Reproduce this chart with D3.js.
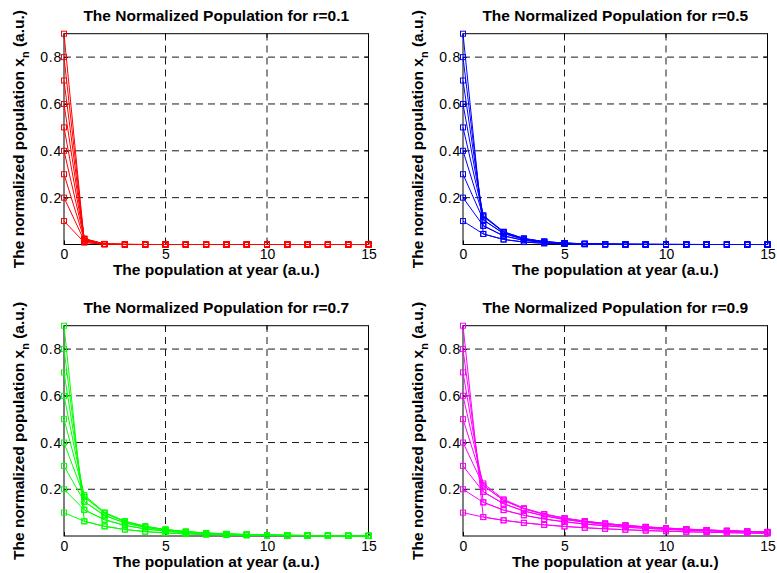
<!DOCTYPE html>
<html>
<head>
<meta charset="utf-8">
<script src="https://cdn.jsdelivr.net/npm/d3@7"></script>
<style>
  html, body { margin: 0; padding: 0; background: #fff; }
  svg { display: block; font-family: "Liberation Sans", Arial, Helvetica, sans-serif; }
</style>
</head>
<body>
<svg id="chart" width="777" height="573"></svg>
<script>
// Years on the horizontal axis
const years = [0, 1, 2, 3, 4, 5, 6, 7, 8, 9, 10, 11, 12, 13, 14, 15];

// Growth rates, one panel each
const rates = ["0.1", "0.5", "0.7", "0.9"];

// Tick values
const xTicks = [0, 5, 10, 15];
const yTicks = [0.2, 0.4, 0.6, 0.8];

// Normalized population x_n, one row per starting value x0 = 0.1 … 0.9
const popR01 = [
  [0.1, 0.009, 0.0009, 0.0001, 0, 0, 0, 0, 0, 0, 0, 0, 0, 0, 0, 0],
  [0.2, 0.016, 0.0016, 0.0002, 0, 0, 0, 0, 0, 0, 0, 0, 0, 0, 0, 0],
  [0.3, 0.021, 0.0021, 0.0002, 0, 0, 0, 0, 0, 0, 0, 0, 0, 0, 0, 0],
  [0.4, 0.024, 0.0023, 0.0002, 0, 0, 0, 0, 0, 0, 0, 0, 0, 0, 0, 0],
  [0.5, 0.025, 0.0024, 0.0002, 0, 0, 0, 0, 0, 0, 0, 0, 0, 0, 0, 0],
  [0.6, 0.024, 0.0023, 0.0002, 0, 0, 0, 0, 0, 0, 0, 0, 0, 0, 0, 0],
  [0.7, 0.021, 0.0021, 0.0002, 0, 0, 0, 0, 0, 0, 0, 0, 0, 0, 0, 0],
  [0.8, 0.016, 0.0016, 0.0002, 0, 0, 0, 0, 0, 0, 0, 0, 0, 0, 0, 0],
  [0.9, 0.009, 0.0009, 0.0001, 0, 0, 0, 0, 0, 0, 0, 0, 0, 0, 0, 0]
];

const popR05 = [
  [0.1, 0.045, 0.0215, 0.0105, 0.0052, 0.0026, 0.0013, 0.0006, 0.0003, 0.0002, 0.0001, 0, 0, 0, 0, 0],
  [0.2, 0.080, 0.0368, 0.0177, 0.0087, 0.0043, 0.0021, 0.0011, 0.0005, 0.0003, 0.0001, 0.0001, 0, 0, 0, 0],
  [0.3, 0.105, 0.0470, 0.0224, 0.0109, 0.0054, 0.0027, 0.0013, 0.0007, 0.0003, 0.0002, 0.0001, 0, 0, 0, 0],
  [0.4, 0.120, 0.0528, 0.0250, 0.0122, 0.0060, 0.0030, 0.0015, 0.0007, 0.0004, 0.0002, 0.0001, 0, 0, 0, 0],
  [0.5, 0.125, 0.0547, 0.0258, 0.0126, 0.0062, 0.0031, 0.0015, 0.0008, 0.0004, 0.0002, 0.0001, 0, 0, 0, 0],
  [0.6, 0.120, 0.0528, 0.0250, 0.0122, 0.0060, 0.0030, 0.0015, 0.0007, 0.0004, 0.0002, 0.0001, 0, 0, 0, 0],
  [0.7, 0.105, 0.0470, 0.0224, 0.0109, 0.0054, 0.0027, 0.0013, 0.0007, 0.0003, 0.0002, 0.0001, 0, 0, 0, 0],
  [0.8, 0.080, 0.0368, 0.0177, 0.0087, 0.0043, 0.0021, 0.0011, 0.0005, 0.0003, 0.0001, 0.0001, 0, 0, 0, 0],
  [0.9, 0.045, 0.0215, 0.0105, 0.0052, 0.0026, 0.0013, 0.0006, 0.0003, 0.0002, 0.0001, 0, 0, 0, 0, 0]
];

const popR07 = [
  [0.1, 0.063, 0.0413, 0.0277, 0.0189, 0.0130, 0.0090, 0.0062, 0.0043, 0.0030, 0.0021, 0.0015, 0.0010, 0.0007, 0.0005, 0.0004],
  [0.2, 0.112, 0.0696, 0.0453, 0.0303, 0.0206, 0.0141, 0.0097, 0.0067, 0.0047, 0.0033, 0.0023, 0.0016, 0.0011, 0.0008, 0.0005],
  [0.3, 0.147, 0.0878, 0.0560, 0.0370, 0.0250, 0.0170, 0.0117, 0.0081, 0.0056, 0.0039, 0.0027, 0.0019, 0.0013, 0.0009, 0.0007],
  [0.4, 0.168, 0.0978, 0.0618, 0.0406, 0.0273, 0.0186, 0.0127, 0.0088, 0.0061, 0.0043, 0.0030, 0.0021, 0.0014, 0.0010, 0.0007],
  [0.5, 0.175, 0.1011, 0.0636, 0.0417, 0.0280, 0.0190, 0.0131, 0.0090, 0.0063, 0.0044, 0.0030, 0.0021, 0.0015, 0.0010, 0.0007],
  [0.6, 0.168, 0.0978, 0.0618, 0.0406, 0.0273, 0.0186, 0.0127, 0.0088, 0.0061, 0.0043, 0.0030, 0.0021, 0.0014, 0.0010, 0.0007],
  [0.7, 0.147, 0.0878, 0.0560, 0.0370, 0.0250, 0.0170, 0.0117, 0.0081, 0.0056, 0.0039, 0.0027, 0.0019, 0.0013, 0.0009, 0.0007],
  [0.8, 0.112, 0.0696, 0.0453, 0.0303, 0.0206, 0.0141, 0.0097, 0.0067, 0.0047, 0.0033, 0.0023, 0.0016, 0.0011, 0.0008, 0.0005],
  [0.9, 0.063, 0.0413, 0.0277, 0.0189, 0.0130, 0.0090, 0.0062, 0.0043, 0.0030, 0.0021, 0.0015, 0.0010, 0.0007, 0.0005, 0.0004]
];

const popR09 = [
  [0.1, 0.081, 0.0670, 0.0563, 0.0478, 0.0409, 0.0353, 0.0307, 0.0268, 0.0234, 0.0206, 0.0182, 0.0161, 0.0142, 0.0126, 0.0112],
  [0.2, 0.144, 0.1109, 0.0888, 0.0728, 0.0607, 0.0514, 0.0438, 0.0377, 0.0327, 0.0284, 0.0249, 0.0218, 0.0192, 0.0170, 0.0150],
  [0.3, 0.189, 0.1380, 0.1070, 0.0860, 0.0708, 0.0592, 0.0501, 0.0428, 0.0369, 0.0320, 0.0279, 0.0244, 0.0214, 0.0189, 0.0166],
  [0.4, 0.216, 0.1524, 0.1163, 0.0925, 0.0755, 0.0628, 0.0530, 0.0452, 0.0388, 0.0336, 0.0292, 0.0255, 0.0224, 0.0197, 0.0174],
  [0.5, 0.225, 0.1569, 0.1191, 0.0944, 0.0769, 0.0639, 0.0539, 0.0459, 0.0394, 0.0340, 0.0296, 0.0259, 0.0227, 0.0199, 0.0176],
  [0.6, 0.216, 0.1524, 0.1163, 0.0925, 0.0755, 0.0628, 0.0530, 0.0452, 0.0388, 0.0336, 0.0292, 0.0255, 0.0224, 0.0197, 0.0174],
  [0.7, 0.189, 0.1380, 0.1070, 0.0860, 0.0708, 0.0592, 0.0501, 0.0428, 0.0369, 0.0320, 0.0279, 0.0244, 0.0214, 0.0189, 0.0166],
  [0.8, 0.144, 0.1109, 0.0888, 0.0728, 0.0607, 0.0514, 0.0438, 0.0377, 0.0327, 0.0284, 0.0249, 0.0218, 0.0192, 0.0170, 0.0150],
  [0.9, 0.081, 0.0670, 0.0563, 0.0478, 0.0409, 0.0353, 0.0307, 0.0268, 0.0234, 0.0206, 0.0182, 0.0161, 0.0142, 0.0126, 0.0112]
];

const populations = [popR01, popR05, popR07, popR09];

// ---- presentation ----
const lineColors = ["#ff0000", "#0000ff", "#00ff00", "#ff00ff"];
const panelBoxes = [
  { left: 64,  right: 368.5, top: 33.7,  bottom: 244.5 },
  { left: 463, right: 767.5, top: 33.7,  bottom: 244.5 },
  { left: 64,  right: 368.5, top: 325.7, bottom: 536 },
  { left: 463, right: 767.5, top: 325.7, bottom: 536 }
];
const markerSize = 5;
const tickLen = 4;
const labelFont = "15.5px";
const tickFont = "14px";

const svg = d3.select("#chart");

rates.forEach((r, i) => {
  const box = panelBoxes[i];
  const color = lineColors[i];
  const data = populations[i];

  const x = d3.scaleLinear().domain([0, 15]).range([box.left, box.right]);
  const y = d3.scaleLinear().domain([0, 0.9]).range([box.bottom, box.top]);

  const g = svg.append("g");

  // dashed grid
  const grid = g.append("g")
    .attr("stroke", "#1a1a1a")
    .attr("stroke-width", 1)
    .attr("stroke-dasharray", "7,5")
    .attr("fill", "none");
  xTicks.filter(t => t > 0 && t < 15).forEach(t => {
    grid.append("line")
      .attr("x1", x(t)).attr("x2", x(t))
      .attr("y1", box.bottom).attr("y2", box.top);
  });
  yTicks.forEach(t => {
    grid.append("line")
      .attr("x1", box.left).attr("x2", box.right)
      .attr("y1", y(t)).attr("y2", y(t));
  });

  // axes: bottom and left via d3.axis with inward ticks
  const xAxis = d3.axisBottom(x).tickValues(xTicks).tickSizeInner(-tickLen).tickSizeOuter(0).tickPadding(5)
    .tickFormat(d3.format("d"));
  const yAxis = d3.axisLeft(y).tickValues(yTicks).tickSizeInner(-tickLen).tickSizeOuter(0).tickPadding(2)
    .tickFormat(d3.format(".1f"));

  const gx = g.append("g").attr("transform", `translate(0,${box.bottom})`).call(xAxis);
  const gy = g.append("g").attr("transform", `translate(${box.left},0)`).call(yAxis);
  [gx, gy].forEach(a => {
    a.select(".domain").remove();
    a.selectAll(".tick line").attr("stroke", "#000");
    a.selectAll(".tick text")
      .attr("fill", "#000")
      .style("font-size", tickFont)
      .style("font-family", "Liberation Sans, Arial, sans-serif");
  });
  gy.selectAll(".tick text").style("letter-spacing", "0.8px");

  // mirrored ticks on top and right
  const mirror = g.append("g").attr("stroke", "#000").attr("stroke-width", 1);
  xTicks.forEach(t => {
    mirror.append("line").attr("x1", x(t)).attr("x2", x(t))
      .attr("y1", box.top).attr("y2", box.top + tickLen);
  });
  yTicks.forEach(t => {
    mirror.append("line").attr("x1", box.right).attr("x2", box.right - tickLen)
      .attr("y1", y(t)).attr("y2", y(t));
  });

  // axes box
  g.append("rect")
    .attr("x", box.left).attr("y", box.top)
    .attr("width", box.right - box.left).attr("height", box.bottom - box.top)
    .attr("fill", "none").attr("stroke", "#000").attr("stroke-width", 1);

  // series: one line with square markers per starting value
  const line = d3.line().x((d, j) => x(years[j])).y(d => y(d));
  data.forEach(series => {
    const s = g.append("g");
    s.append("path")
      .attr("d", line(series))
      .attr("fill", "none")
      .attr("stroke", color)
      .attr("stroke-width", 1);
    s.selectAll("rect")
      .data(series)
      .join("rect")
      .attr("x", (d, j) => x(years[j]) - markerSize / 2)
      .attr("y", d => y(d) - markerSize / 2)
      .attr("width", markerSize)
      .attr("height", markerSize)
      .attr("fill", "none")
      .attr("stroke", color)
      .attr("stroke-width", 1);
  });

  const cx = (box.left + box.right) / 2;
  const cy = (box.top + box.bottom) / 2;

  // title
  g.append("text")
    .attr("x", cx).attr("y", box.top - 12.5)
    .attr("text-anchor", "middle")
    .style("font-size", labelFont).style("font-weight", "bold")
    .text(`The Normalized Population for r=${r}`);

  // x label
  g.append("text")
    .attr("x", cx).attr("y", box.bottom + 30.5)
    .attr("text-anchor", "middle")
    .style("font-size", labelFont).style("font-weight", "bold")
    .text("The population at year (a.u.)");

  // y label with subscript
  const yl = g.append("text")
    .attr("transform", `translate(${box.left - 40.5},${cy}) rotate(-90)`)
    .attr("text-anchor", "middle")
    .style("font-size", labelFont).style("font-weight", "bold");
  yl.append("tspan").text("The normalized population x");
  yl.append("tspan").attr("dy", 5).style("font-size", "11px").text("n");
  yl.append("tspan").attr("dy", -5).text(" (a.u.)");
});
</script>
</body>
</html>
